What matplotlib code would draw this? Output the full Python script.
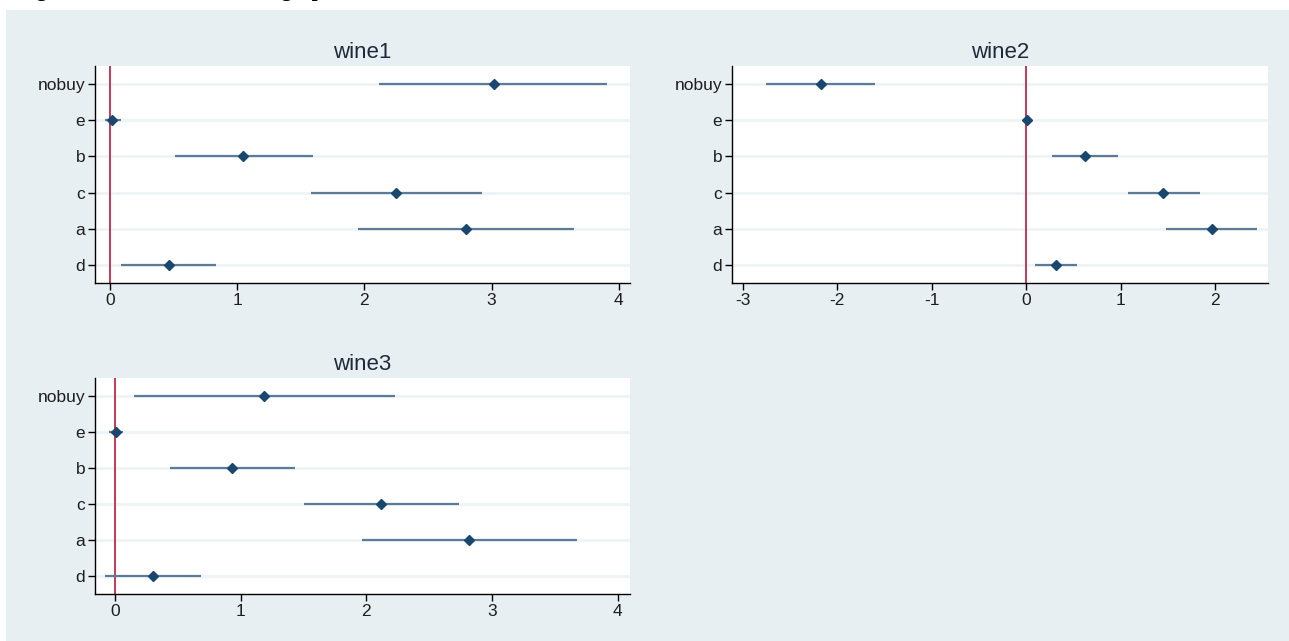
import matplotlib
matplotlib.use("Agg")

import matplotlib.pyplot as plt
from matplotlib.patches import Rectangle

# coefficient estimates with 95% intervals, listed top to bottom
labels = ["nobuy", "e", "b", "c", "a", "d"]

wine1_coef = [3.017, 0.013, 1.045, 2.249, 2.802, 0.463]
wine1_lo = [2.114, -0.043, 0.513, 1.581, 1.952, 0.086]
wine1_hi = [3.910, 0.083, 1.594, 2.921, 3.649, 0.834]

wine2_coef = [-2.173, 0.004, 0.624, 1.447, 1.961, 0.310]
wine2_lo = [-2.759, -0.010, 0.272, 1.074, 1.477, 0.093]
wine2_hi = [-1.600, 0.010, 0.976, 1.842, 2.445, 0.535]

wine3_coef = [1.187, 0.010, 0.930, 2.120, 2.819, 0.304]
wine3_lo = [0.157, -0.047, 0.438, 1.505, 1.967, -0.080]
wine3_hi = [2.227, 0.067, 1.435, 2.739, 3.672, 0.689]

BG = "#e8eff2"
NAVY = "#1a476f"
BAR = "#5b7b97"
RED = "#c0163a"

plt.rcParams["font.family"] = ["Liberation Sans", "DejaVu Sans"]

W, H = 1289, 641
fig = plt.figure(figsize=(W / 100, H / 100), dpi=100)
fig.patch.set_facecolor("white")
fig.patches.append(Rectangle((6 / W, 0), 1, (H - 10) / H, transform=fig.transFigure,
                             facecolor=BG, edgecolor="none", zorder=-10))

# caption line sits above the page crop, only its lowest strokes show
fig.text(18 / W, 1 + 4 / H, "Figure 4.6: Substitution wine graphs", ha="left",
         va="baseline", fontsize=15, fontweight="bold", family="Liberation Serif")


def px_axes(x0, y0, x1, y1):
    return fig.add_axes([x0 / W, 1 - y1 / H, (x1 - x0) / W, (y1 - y0) / H])


def coefplot(ax, title, coef, lo, hi, xlim, xticks):
    n = len(labels)
    ys = [n - 1 - i for i in range(n)]
    ax.set_facecolor("white")
    ax.axvline(0, color=RED, lw=1.2, zorder=2)
    ax.hlines(ys, lo, hi, color=BAR, lw=1.6, zorder=3)
    ax.plot(coef, ys, "D", color=NAVY, markersize=5, zorder=4)

    ax.set_ylim(-0.5, n - 0.5)
    ax.set_yticks(ys)
    ax.set_yticklabels(labels)
    ax.set_xlim(*xlim)
    ax.set_xticks(xticks)
    ax.set_xticklabels([str(t) for t in xticks])

    ax.grid(axis="y", color="#eef3f5", lw=2, zorder=0)
    ax.grid(axis="x", visible=False)
    for side in ("top", "right"):
        ax.spines[side].set_visible(False)
    for side in ("left", "bottom"):
        ax.spines[side].set_color("black")
        ax.spines[side].set_linewidth(1)
    ax.tick_params(direction="out", length=5, width=1, color="black",
                   labelsize=12.5, labelcolor="#1e1e1e", pad=2)
    ax.set_title(title, fontsize=16, color="#1e2a3a", pad=6)


ax1 = px_axes(95, 66, 630, 283)
coefplot(ax1, "wine1", wine1_coef, wine1_lo, wine1_hi, (-0.119, 4.089), [0, 1, 2, 3, 4])

ax2 = px_axes(732, 66, 1268, 283)
coefplot(ax2, "wine2", wine2_coef, wine2_lo, wine2_hi, (-3.115, 2.559), [-3, -2, -1, 0, 1, 2])

ax3 = px_axes(95, 378, 630, 594)
coefplot(ax3, "wine3", wine3_coef, wine3_lo, wine3_hi, (-0.157, 4.097), [0, 1, 2, 3, 4])

fig.savefig("out.png", dpi=100, facecolor=fig.get_facecolor())
